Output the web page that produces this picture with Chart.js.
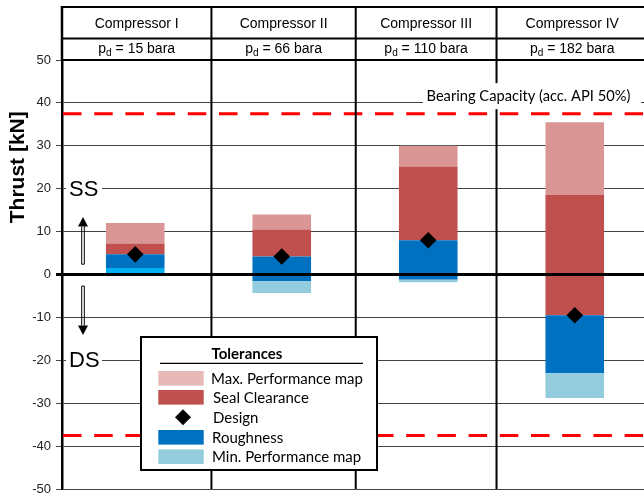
<!DOCTYPE html>
<html>
<head>
<meta charset="utf-8">
<script src="https://cdn.jsdelivr.net/npm/chart.js@4/dist/chart.umd.min.js"></script>
<style>
  html, body { margin: 0; padding: 0; overflow: hidden; background: #fff; }
  #wrap { width: 648px; height: 495px; }
</style>
</head>
<body>
<div id="wrap"><canvas id="c" width="648" height="495"></canvas></div>
<script>
// Axial thrust tolerance bands per compressor [kN]
const compressors = ['Compressor I', 'Compressor II', 'Compressor III', 'Compressor IV'];
const dischargePressure = [15, 66, 110, 182]; // bara

// Each band is [lower, upper] thrust in kN
const minPerfMap    = [[0, 1.5], [-4.3, -1.6], [-1.8, -1.2], [-28.8, -23.0]];
const roughness     = [[1.5, 4.7], [-1.6, 4.2], [-1.2, 8.0], [-23.0, -9.5]];
const sealClearance = [[4.7, 7.2], [4.2, 10.5], [8.0, 25.2], [-9.5, 18.6]];
const maxPerfMap    = [[7.2, 12.0], [10.5, 14.0], [25.2, 30.0], [18.6, 35.5]];
const designThrust  = [4.7, 4.2, 8.0, -9.5];

const bearingCapacity = 37.5; // kN, acc. API 50%
const yTicks = [-50, -40, -30, -20, -10, 0, 10, 20, 30, 40, 50];

const COLORS = {
  maxPerf: '#D99694',
  maxPerfKey: '#E6B9B8',
  seal: '#C0504D',
  rough: '#0070C0',
  minPerf: '#93CDDD',
  minPerfLow: '#00B0F0'
};

const SANS = '"Liberation Sans", Arial, sans-serif';
const CAL = 'Lato, "Open Sans", sans-serif';

// column divider positions, in category-index units
const dividers = [0.52, 1.505, 2.466];

function fitFont(ctx, text, weight, family, width) {
  ctx.font = weight + ' 100px ' + family;
  return 100 * width / ctx.measureText(text).width;
}

const overlay = {
  id: 'overlay',
  afterDatasetsDraw(chart) {
    const { ctx, chartArea: a, scales: { x, y } } = chart;
    const W = chart.width;
    const step = x.getPixelForValue(1) - x.getPixelForValue(0);
    const divX = dividers.map(d => x.getPixelForValue(0) + d * step);
    const headTop = 7, headMid = 38.5;

    ctx.save();

    // zero line
    ctx.strokeStyle = '#000';
    ctx.lineWidth = 3.2;
    ctx.beginPath();
    ctx.moveTo(a.left - 6, y.getPixelForValue(0));
    ctx.lineTo(W, y.getPixelForValue(0));
    ctx.stroke();

    // bearing capacity limits
    ctx.strokeStyle = '#FF0000';
    ctx.lineWidth = 3;
    ctx.setLineDash([18.5, 12.7]);
    [bearingCapacity, -bearingCapacity].forEach(v => {
      const py = y.getPixelForValue(v);
      ctx.beginPath();
      ctx.moveTo(a.left + 1, py);
      ctx.lineTo(W, py);
      ctx.stroke();
    });
    ctx.setLineDash([]);

    // column dividers
    ctx.strokeStyle = '#000';
    ctx.lineWidth = 2;
    divX.forEach(px => {
      ctx.beginPath();
      ctx.moveTo(px, headTop);
      ctx.lineTo(px, a.bottom);
      ctx.stroke();
    });

    // header table
    ctx.beginPath();
    ctx.moveTo(a.left, headTop); ctx.lineTo(W, headTop);
    ctx.moveTo(a.left, headMid); ctx.lineTo(W, headMid);
    ctx.moveTo(a.left, a.top); ctx.lineTo(W, a.top);
    ctx.stroke();
    ctx.lineWidth = 2.5;
    ctx.beginPath();
    ctx.moveTo(a.left, headTop - 1); ctx.lineTo(a.left, a.top);
    ctx.stroke();

    const edges = [a.left, ...divX, W];
    ctx.fillStyle = '#000';
    ctx.textBaseline = 'middle';
    compressors.forEach((name, i) => {
      const cx = (edges[i] + edges[i + 1]) / 2;
      ctx.font = '14px ' + SANS;
      ctx.textAlign = 'center';
      ctx.fillText(name, cx, 24);
      // p_d = ... bara
      const rest = ' = ' + dischargePressure[i] + ' bara';
      ctx.font = '14px ' + SANS;
      const wp = ctx.measureText('p').width;
      const wr = ctx.measureText(rest).width;
      ctx.font = '10px ' + SANS;
      const wd = ctx.measureText('d').width;
      let sx = cx - (wp + wd + wr) / 2;
      ctx.textAlign = 'left';
      ctx.font = '14px ' + SANS;
      ctx.fillText('p', sx, 49);
      ctx.font = '10px ' + SANS;
      ctx.fillText('d', sx + wp, 53);
      ctx.font = '14px ' + SANS;
      ctx.fillText(rest, sx + wp + wd, 49);
    });

    // bearing capacity label
    const lblY = y.getPixelForValue(bearingCapacity) - 17.5;
    ctx.fillStyle = '#fff';
    ctx.fillRect(423, lblY - 13, 218, 26);
    const lbl = 'Bearing Capacity (acc. API 50%)';
    const fs = fitFont(ctx, lbl, '', CAL, 204);
    ctx.font = fs.toFixed(2) + 'px ' + CAL;
    ctx.fillStyle = '#000';
    ctx.textAlign = 'left';
    ctx.fillText(lbl, 426.5, lblY);

    // SS / DS markers
    const ax = a.left + 21;
    [['SS', 20], ['DS', -20]].forEach(([t, v]) => {
      const py = y.getPixelForValue(v);
      ctx.fillStyle = '#fff';
      ctx.fillRect(a.left + 4, py - 11, 36, 22);
      ctx.fillStyle = '#000';
      ctx.font = '22px ' + SANS;
      ctx.textAlign = 'left';
      ctx.fillText(t, a.left + 7, py + 1);
    });

    function arrow(from, to) {
      const y0 = y.getPixelForValue(from), y1 = y.getPixelForValue(to);
      const dir = y1 < y0 ? -1 : 1;
      const base = y1 - dir * 9.5;
      ctx.strokeStyle = '#000';
      ctx.lineWidth = 1;
      ctx.beginPath();
      ctx.moveTo(ax - 1.3, y0); ctx.lineTo(ax - 1.3, base);
      ctx.moveTo(ax + 1.3, y0); ctx.lineTo(ax + 1.3, base);
      ctx.moveTo(ax - 1.3, y0); ctx.lineTo(ax + 1.3, y0);
      ctx.stroke();
      ctx.fillStyle = '#000';
      ctx.beginPath();
      ctx.moveTo(ax, y1);
      ctx.lineTo(ax - 5, base);
      ctx.lineTo(ax + 5, base);
      ctx.closePath();
      ctx.fill();
    }
    arrow(2.4, 13.4);
    arrow(-2.7, -14.1);

    // axis title
    ctx.save();
    ctx.translate(18, y.getPixelForValue(25));
    ctx.rotate(-Math.PI / 2);
    ctx.font = 'bold 21px ' + SANS;
    ctx.textAlign = 'center';
    ctx.fillStyle = '#000';
    ctx.fillText('Thrust [kN]', 0, 0);
    ctx.restore();

    // legend box
    const L = 141, T = 337, R = 377, B = 470;
    ctx.fillStyle = '#fff';
    ctx.fillRect(L, T, R - L, B - T);
    ctx.strokeStyle = '#000';
    ctx.lineWidth = 2;
    ctx.strokeRect(L, T, R - L, B - T);

    ctx.fillStyle = '#000';
    ctx.textAlign = 'center';
    const tfs = fitFont(ctx, 'Tolerances', 'bold', CAL, 71);
    ctx.font = 'bold ' + tfs.toFixed(2) + 'px ' + CAL;
    ctx.fillText('Tolerances', 247, 354);
    ctx.lineWidth = 1.2;
    ctx.beginPath();
    ctx.moveTo(160, 363.3); ctx.lineTo(363, 363.3);
    ctx.stroke();

    const keyFs = fitFont(ctx, 'Max. Performance map', '', CAL, 152);
    const items = [
      ['Max. Performance map', COLORS.maxPerfKey, 378.3, 211],
      ['Seal Clearance', COLORS.seal, 397.3, 213],
      ['Design', null, 417.3, 213],
      ['Roughness', COLORS.rough, 437.3, 212],
      ['Min. Performance map', COLORS.minPerf, 456.7, 212]
    ];
    items.forEach(([t, col, cy, tx]) => {
      if (col) {
        ctx.fillStyle = col;
        ctx.fillRect(158.3, cy - 7.3, 45.4, 14.6);
      } else {
        ctx.fillStyle = '#000';
        ctx.beginPath();
        ctx.moveTo(183, cy - 8); ctx.lineTo(191, cy);
        ctx.lineTo(183, cy + 8); ctx.lineTo(175, cy);
        ctx.closePath();
        ctx.fill();
      }
      ctx.fillStyle = '#000';
      ctx.textAlign = 'left';
      ctx.font = keyFs.toFixed(2) + 'px ' + CAL;
      ctx.fillText(t, tx, cy + 0.5);
    });

    ctx.restore();
  }
};

const barCommon = {
  type: 'bar',
  grouped: false,
  barPercentage: 0.4,
  categoryPercentage: 1.0,
  borderWidth: 0,
  order: 1
};

new Chart(document.getElementById('c'), {
  data: {
    labels: compressors,
    datasets: [
      { ...barCommon, label: 'Min. Performance map', data: minPerfMap,
        backgroundColor: [COLORS.minPerfLow, COLORS.minPerf, COLORS.minPerf, COLORS.minPerf] },
      { ...barCommon, label: 'Roughness', data: roughness, backgroundColor: COLORS.rough },
      { ...barCommon, label: 'Seal Clearance', data: sealClearance, backgroundColor: COLORS.seal },
      { ...barCommon, label: 'Max. Performance map', data: maxPerfMap, backgroundColor: COLORS.maxPerf },
      { type: 'line', label: 'Design', data: designThrust, showLine: false,
        pointStyle: 'rectRot', pointRadius: 8.3, pointBorderWidth: 0,
        backgroundColor: '#000', borderColor: '#000', order: 0 }
    ]
  },
  options: {
    responsive: false,
    animation: false,
    devicePixelRatio: 1,
    events: [],
    layout: { autoPadding: false, padding: { left: 0, right: 0, top: 60, bottom: 6 } },
    plugins: { legend: { display: false }, tooltip: { enabled: false } },
    scales: {
      x: { display: false, offset: true },
      y: {
        min: -50, max: 50,
        afterBuildTicks: s => { s.ticks = yTicks.map(v => ({ value: v })); },
        afterFit: s => { s.width = 62; s.paddingTop = 0; s.paddingBottom = 0; },
        ticks: { font: { family: SANS, size: 13, lineHeight: 0.4 }, color: '#222', padding: 5 },
        grid: { color: '#444', lineWidth: 1, tickLength: 6, drawTicks: true },
        border: { display: true, color: '#000', width: 2.5 }
      }
    }
  },
  plugins: [overlay]
});
</script>
</body>
</html>
